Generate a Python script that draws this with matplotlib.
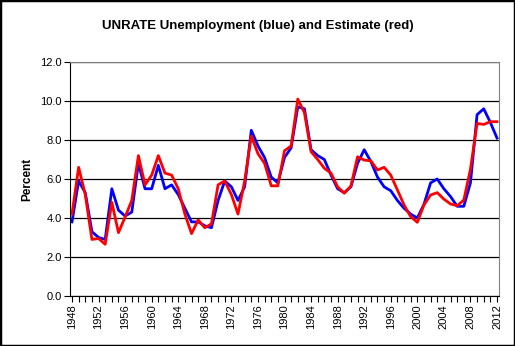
"""UNRATE annual unemployment vs. estimate, Excel-style line chart."""

import matplotlib

matplotlib.use("Agg")
import matplotlib.pyplot as plt  # noqa: E402
import numpy as np  # noqa: E402
from matplotlib.patches import Rectangle  # noqa: E402

plt.rcParams["font.family"] = ["Liberation Sans", "DejaVu Sans"]

years = list(range(1948, 2013))

unrate = [
    3.8, 5.9, 5.3, 3.3, 3.0, 2.9, 5.5, 4.4, 4.1, 4.3,
    6.8, 5.5, 5.5, 6.7, 5.5, 5.7, 5.2, 4.5, 3.8, 3.8,
    3.6, 3.5, 4.9, 5.9, 5.6, 4.9, 5.6, 8.5, 7.7, 7.1,
    6.1, 5.8, 7.1, 7.6, 9.7, 9.6, 7.5, 7.2, 7.0, 6.2,
    5.5, 5.3, 5.6, 6.8, 7.5, 6.9, 6.1, 5.6, 5.4, 4.9,
    4.5, 4.2, 4.0, 4.7, 5.8, 6.0, 5.5, 5.1, 4.6, 4.6,
    5.8, 9.3, 9.6, 8.9, 8.1,
]

estimate = [
    4.2, 6.6, 5.2, 2.9, 2.95, 2.65, 4.8, 3.25, 4.05, 4.9,
    7.2, 5.7, 6.2, 7.2, 6.3, 6.2, 5.5, 4.2, 3.2, 3.9,
    3.5, 3.7, 5.7, 5.9, 5.2, 4.2, 5.9, 8.2, 7.3, 6.8,
    5.65, 5.65, 7.45, 7.7, 10.1, 9.4, 7.4, 7.0, 6.55, 6.3,
    5.6, 5.27, 5.64, 7.14, 6.97, 6.93, 6.46, 6.6, 6.2, 5.44,
    4.67, 4.07, 3.78, 4.67, 5.18, 5.3, 4.97, 4.72, 4.63, 4.92,
    6.5, 8.85, 8.8, 8.94, 8.94,
]

label_years = list(range(1948, 2013, 4))
y_ticks = np.arange(0, 12.1, 2.0)

fig = plt.figure(figsize=(5.15, 3.46), dpi=100)
fig.add_artist(Rectangle((0, 0), 1, 1, transform=fig.transFigure,
                         fill=False, edgecolor="black", linewidth=2.5))

ax = fig.add_axes([70 / 515, 50 / 346, 429 / 515, 234 / 346])

ax.plot(years, unrate, color="#0000FF", linewidth=2.0)
ax.plot(years, estimate, color="#FF0000", linewidth=2.0)

ax.set_xlim(1947.7, 2012.3)
ax.set_ylim(0, 12)
ax.set_yticks(y_ticks)
ax.set_yticklabels([f"{v:.1f}" for v in y_ticks], fontsize=8)
ax.set_xticks(years)
ax.set_xticklabels([str(y) if y in label_years else "" for y in years],
                   rotation=90, fontsize=8)
ax.tick_params(axis="both", direction="out", length=4, width=0.8,
               color="black", pad=2)

ax.grid(axis="y", color="black", linewidth=0.9)
ax.set_axisbelow(True)
for side in ("top", "right"):
    ax.spines[side].set_color("#808080")
for side in ("left", "bottom"):
    ax.spines[side].set_color("black")

ax.set_ylabel("Percent", fontsize=8.5, fontweight="bold", labelpad=5)
fig.suptitle("UNRATE Unemployment (blue) and Estimate (red)",
             fontsize=9.5, fontweight="bold", x=258 / 515, y=1 - 26 / 346,
             va="center")

fig.savefig("out.png", dpi=100)
